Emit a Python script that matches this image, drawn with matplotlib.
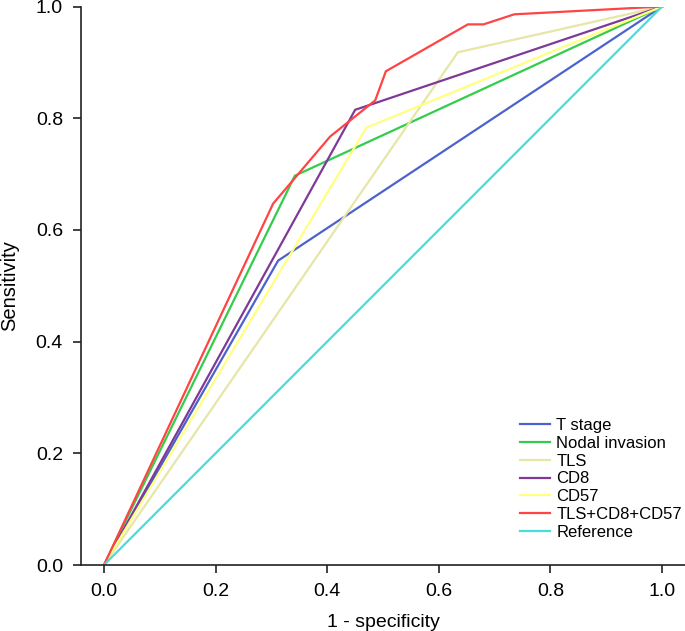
import matplotlib
matplotlib.use("Agg")
import matplotlib.pyplot as plt

plt.rcParams['font.family'] = ['Liberation Sans', 'DejaVu Sans']

labels = ["T stage", "Nodal invasion", "TLS", "CD8", "CD57", "TLS+CD8+CD57", "Reference"]
colors = ["#4C62CC", "#33CC4D", "#E6E6A6", "#7E3A96", "#FFFF80", "#FF4444", "#48DDDD"]

fpr_t = [0.0, 0.312, 1.0]
tpr_t = [0.0, 0.545, 1.0]
fpr_n = [0.0, 0.342, 1.0]
tpr_n = [0.0, 0.697, 1.0]
fpr_tls = [0.0, 0.634, 1.0]
tpr_tls = [0.0, 0.918, 1.0]
fpr_cd8 = [0.0, 0.450, 1.0]
tpr_cd8 = [0.0, 0.815, 1.0]
fpr_cd57 = [0.0, 0.470, 1.0]
tpr_cd57 = [0.0, 0.783, 1.0]
fpr_comb = [0.0, 0.303, 0.405, 0.486, 0.505, 0.652, 0.680, 0.735, 1.0]
tpr_comb = [0.0, 0.647, 0.767, 0.832, 0.884, 0.968, 0.968, 0.986, 1.0]
fpr_ref = [0.0, 1.0]
tpr_ref = [0.0, 1.0]

series = [(fpr_t, tpr_t), (fpr_n, tpr_n), (fpr_tls, tpr_tls), (fpr_cd8, tpr_cd8),
          (fpr_cd57, tpr_cd57), (fpr_comb, tpr_comb), (fpr_ref, tpr_ref)]

fig = plt.figure(figsize=(6.85, 6.31), dpi=100)
ax = fig.add_axes([81/685, (631-565)/631, (685-81)/685, (565-6.5)/631])

for (x, y), lab, c in zip(series, labels, colors):
    ax.plot(x, y, color=c, lw=1.6, label=lab, solid_joinstyle='miter')

ax.set_xlim(-0.0412, 1.041)
ax.set_ylim(0, 1)
ax.spines['top'].set_visible(False)
ax.spines['right'].set_visible(False)
for s in ['left', 'bottom']:
    ax.spines[s].set_linewidth(1.2)
    ax.spines[s].set_color('#222222')
ticks = [0.0, 0.2, 0.4, 0.6, 0.8, 1.0]
ax.set_xticks(ticks)
ax.set_yticks(ticks)
ax.set_xticklabels([f"{t:.1f}" for t in ticks])
ax.set_yticklabels([f"{t:.1f}" for t in ticks])
ax.tick_params(length=6, width=1.2, labelsize=14, pad=7, color='#222222')
ax.set_xlabel("1 - specificity", fontsize=14, labelpad=10)
ax.set_ylabel("Sensitivity", fontsize=14.5, labelpad=12)

leg = ax.legend(loc='lower right', bbox_to_anchor=(1.006, 0.033), frameon=False,
                fontsize=12.0, labelspacing=0.17, handlelength=1.75,
                handletextpad=0.4, borderaxespad=0.0)
for line in leg.get_lines():
    line.set_linewidth(1.6)

fig.savefig("out.png", dpi=100)
